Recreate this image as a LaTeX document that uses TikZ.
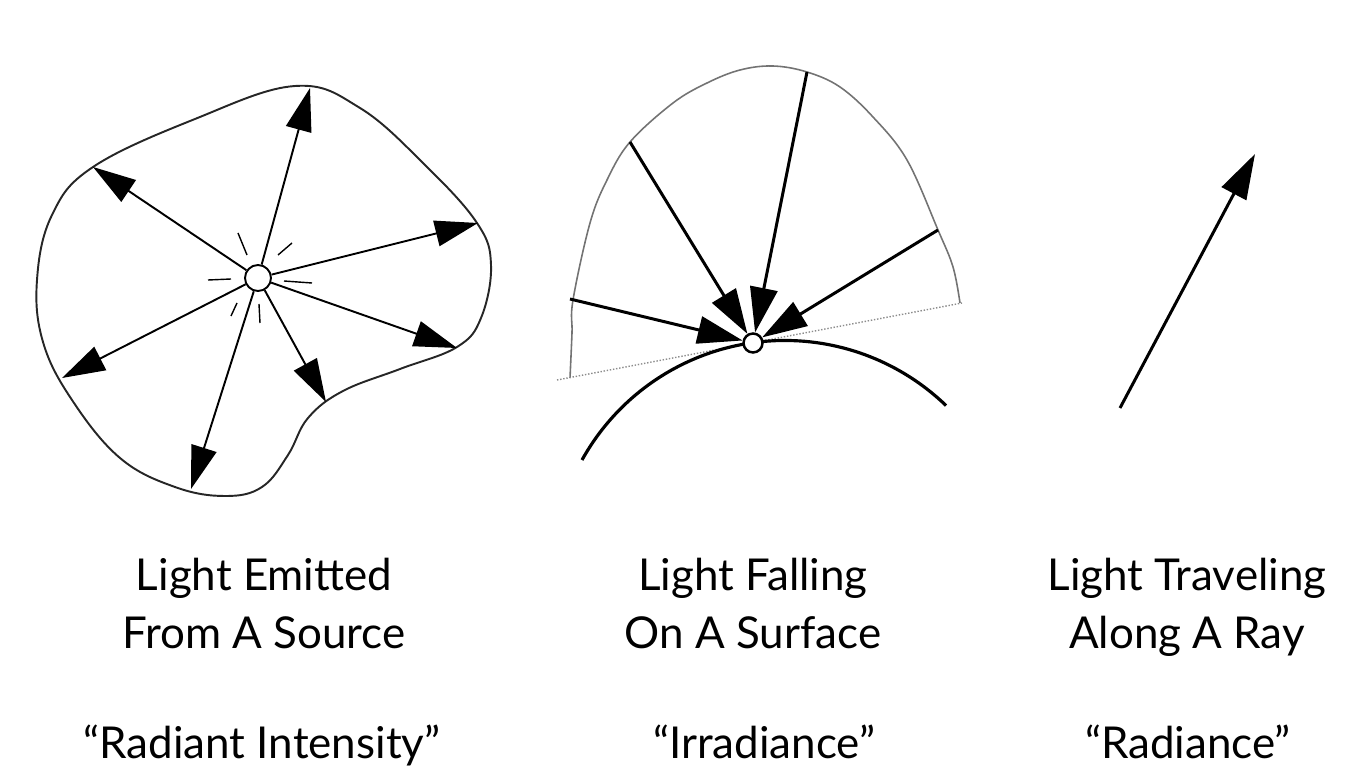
\documentclass[tikz,border=0pt]{standalone}
\usepackage{fontspec}
\setmainfont{Lato}
\usetikzlibrary{positioning, arrows.meta}

\begin{document}
\begin{tikzpicture}[
  x=0.02cm, y=-0.02cm,
  outline/.style={line width=1.1pt, black!85},
  emit/.style={-{Triangle[length=0.86cm, width=0.52cm]}, line width=1.1pt},
  fall/.style={-{Triangle[length=0.9cm, width=0.55cm]}, line width=1.7pt},
  spark/.style={line width=0.8pt},
  dome/.style={line width=0.9pt, black!55},
  hub/.style={draw, circle, fill=white, inner sep=0pt},
  caption/.style={font=\fontsize{25}{33}\selectfont, align=center, anchor=base}
]
\useasboundingbox (0,0) rectangle (1359,780);

% light emitted from a source
\draw[outline] plot[smooth cycle, tension=0.65] coordinates {
  (93,167) (195,119) (295,86) (360,108) (425,165) (477,223) (491,265)
  (481,318) (457,347) (400,369) (343,391) (308,418) (288,455) (262,487)
  (225,496) (175,487) (120,458) (72,400) (43,342) (37,280) (52,215)};
\node[hub, minimum size=0.52cm, line width=1.1pt] (src) at (258,278) {};
\coordinate (t1) at (310,88);
\coordinate (t2) at (93,167);
\coordinate (t3) at (478,223);
\coordinate (t4) at (457,348);
\coordinate (t5) at (326,402);
\coordinate (t6) at (191,489);
\coordinate (t7) at (62,378);
\foreach \t in {t1,t2,t3,t4,t5,t6,t7}
  \draw[emit] (src) -- (\t);
\foreach \a/\b in {{(238,233)}/{(247,255)}, {(292,243)}/{(278,255)},
                   {(208,280)}/{(231,279)}, {(284,281)}/{(312,283)},
                   {(231,316)}/{(237,303)}, {(259,304)}/{(260,323)}}
  \draw[spark] \a -- \b;

% light falling on a surface
\draw[dome] plot[smooth, tension=0.6] coordinates {
  (570,378) (572,333) (573,300) (590,223) (607,180) (630,142) (673,103)
  (707,83) (740,70) (773,66) (807,72) (840,87) (873,117) (907,160)
  (938,230) (953,267) (960,303)};
\draw[black!45, line width=0.8pt, densely dotted] (557,380) -- (962,303);
\draw[line width=1.8pt] (582,460) arc[start angle=-151, end angle=-46, radius=232];
\node[hub, minimum size=0.38cm, line width=1.4pt] (pt) at (753,343) {};
\coordinate (a1) at (570,299);
\coordinate (a2) at (630,142);
\coordinate (a3) at (807,72);
\coordinate (a4) at (938,230);
\foreach \s in {a1,a2,a3,a4}
  \draw[fall] (\s) -- (pt);

% light traveling along a ray
\coordinate (r0) at (1120,408);
\coordinate (r1) at (1255,154);
\draw[fall] (r0) -- (r1);

\node[caption] (capA) at (264,648) {Light Emitted\\From A Source};
\node[caption] (capB) at (753,648) {Light Falling\\On A Surface};
\node[caption] (capC) at (1187,648) {Light Traveling\\Along A Ray};
\node[caption] (nameA) at (262,758) {“Radiant Intensity”};
\node[caption] (nameB) at (764,758) {“Irradiance”};
\node[caption] (nameC) at (1188,758) {“Radiance”};
\end{tikzpicture}
\end{document}
